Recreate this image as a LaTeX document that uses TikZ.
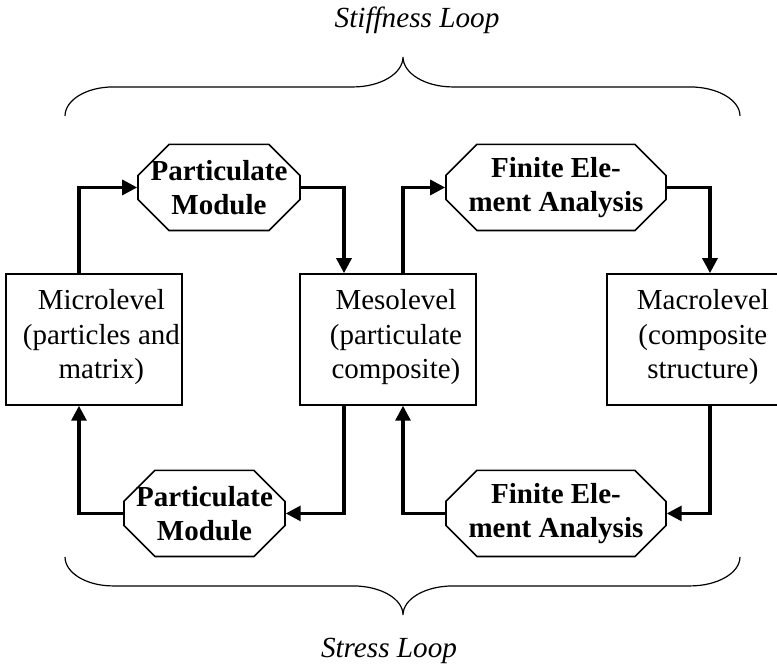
\documentclass[tikz,border=0pt]{standalone}
\usepackage{fontspec}
\setmainfont{Liberation Serif}
\usetikzlibrary{positioning,arrows.meta,shapes.misc}

\begin{document}
\begin{tikzpicture}[
  font=\fontsize{14.5bp}{17.4bp}\selectfont,
  levelbox/.style={rectangle,draw,line width=0.8pt,minimum width=3.104cm,
                   minimum height=2.311cm,inner sep=0pt},
  lvltext/.style ={align=center,inner sep=0pt},
  module/.style  ={chamfered rectangle,chamfered rectangle xsep=0.44cm,
                   draw,line width=0.8pt,minimum height=1.52cm,
                   inner xsep=-0.3cm,inner ysep=0pt,
                   align=center,font=\fontsize{14.5bp}{17bp}\selectfont\bfseries},
  flow/.style    ={line width=1.6pt,-{Triangle[length=7.5pt,width=7.5pt]}},
  curly/.style   ={line width=0.6pt},
  loopname/.style={font=\fontsize{14.6bp}{17bp}\selectfont\itshape,
                   anchor=base,inner sep=0pt}
]
\useasboundingbox (0,0) rectangle (13.706,11.712);

% levels
\node[levelbox] (micro) at (1.658, 5.724) {};
\node[levelbox] (meso)  at (6.844, 5.724) {};
\node[levelbox] (macro) at (12.259,5.724) {};
\node[lvltext] (microtxt) at ([xshift=0.13cm,yshift=0.04cm]micro.center)
  {Microlevel\\(particles and\\matrix)};
\node[lvltext] (mesotxt)  at ([xshift=0.14cm,yshift=0.04cm]meso.center)
  {Mesolevel\\(particulate\\composite)};
\node[lvltext] (macrotxt) at ([xshift=0.14cm,yshift=0.04cm]macro.center)
  {Macrolevel\\(composite\\structure)};

% modules
\node[module,minimum width=2.858cm] (pmtop)  at (3.863,8.405) {Particulate\\Module};
\node[module,minimum width=3.881cm] (featop) at (9.807,8.405) {Finite Ele-\\ment Analysis};
\node[module,minimum width=2.840cm] (pmbot)  at (3.607,2.655) {Particulate\\Module};
\node[module,minimum width=3.881cm] (feabot) at (9.807,2.655) {Finite Ele-\\ment Analysis};

% stiffness loop
\draw[flow] ([xshift=-0.265cm]micro.north) |- (pmtop.west);
\draw[flow] (pmtop.east) -| ([xshift=-0.776cm]meso.north);
\draw[flow] ([xshift=0.265cm]meso.north) |- (featop.west);
\draw[flow] (featop.east) -| ([xshift=0.265cm]macro.north);

% stress loop
\draw[flow] ([xshift=0.265cm]macro.south) |- (feabot.east);
\draw[flow] (feabot.west) -| ([xshift=0.265cm]meso.south);
\draw[flow] ([xshift=-0.776cm]meso.south) |- (pmbot.east);
\draw[flow] (pmbot.west) -| ([xshift=-0.265cm]micro.south);

% braces
\draw[curly] (1.147,9.666) .. controls (1.147,9.948) and (1.526,10.178) .. (1.993,10.178)
  -- (6.227,10.178) .. controls (6.714,10.178) and (7.109,10.415) .. (7.109,10.707)
  .. controls (7.109,10.415) and (7.504,10.178) .. (7.991,10.178)
  -- (12.171,10.178) .. controls (12.658,10.178) and (13.053,9.948) .. (13.053,9.666);
\draw[curly] (1.147,1.887) .. controls (1.147,1.605) and (1.526,1.376) .. (1.993,1.376)
  -- (6.227,1.376) .. controls (6.714,1.376) and (7.109,1.150) .. (7.109,0.864)
  .. controls (7.109,1.150) and (7.504,1.376) .. (7.991,1.376)
  -- (12.171,1.376) .. controls (12.658,1.376) and (13.053,1.605) .. (13.053,1.887);

\node[loopname] (stiff)  at (7.356,11.218) {Stiffness Loop};
\node[loopname] (stress) at (6.862,0.106)  {Stress Loop};
\end{tikzpicture}
\end{document}
